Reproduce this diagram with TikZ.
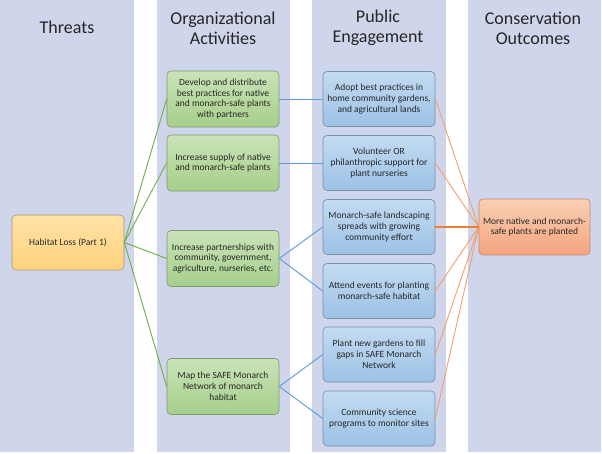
\documentclass[tikz,border=0pt]{standalone}
\usepackage{fontspec}
\setmainfont{Carlito}
\definecolor{colbg}{HTML}{CFD5EA}
\definecolor{gtop}{HTML}{C9E3B8}
\definecolor{gbot}{HTML}{A6CF8A}
\definecolor{gbrd}{HTML}{7E9A6C}
\definecolor{btop}{HTML}{C2DBF1}
\definecolor{bbot}{HTML}{9CC2E5}
\definecolor{bbrd}{HTML}{7890AC}
\definecolor{otop}{HTML}{FAD0B4}
\definecolor{obot}{HTML}{F4A47E}
\definecolor{obrd}{HTML}{C48A70}
\definecolor{ytop}{HTML}{FFE3A6}
\definecolor{ybot}{HTML}{FFD27C}
\definecolor{ybrd}{HTML}{A8977A}
\definecolor{glin}{HTML}{70AD47}
\definecolor{blin}{HTML}{5B9BD5}
\definecolor{olin}{HTML}{F4A06A}
\definecolor{olind}{HTML}{ED7D31}
\tikzset{
  column/.style={fill=colbg, draw=none},
  title/.style={font=\fontsize{18}{20}\selectfont, align=center, text=black!85},
  boxbase/.style={rounded corners=4pt, align=center, font=\fontsize{9.5}{10.8}\selectfont, text=black!85, inner sep=2pt, line width=0.6pt},
  gbox/.style={boxbase, top color=gtop, bottom color=gbot, draw=gbrd, minimum width=112pt, minimum height=56pt},
  bbox/.style={boxbase, top color=btop, bottom color=bbot, draw=bbrd, minimum width=112pt, minimum height=55pt},
  obox/.style={boxbase, top color=otop, bottom color=obot, draw=obrd, minimum width=111pt, minimum height=56pt},
  ybox/.style={boxbase, top color=ytop, bottom color=ybot, draw=ybrd, minimum width=112pt, minimum height=55pt},
  gline/.style={draw=glin, line width=0.9pt},
  bline/.style={draw=blin, line width=0.9pt},
  oline/.style={draw=olin, line width=0.9pt},
}
\begin{document}
\begin{tikzpicture}[x=1pt,y=-1pt]
\useasboundingbox (0,0) rectangle (602,454);
\fill[white] (0,0) rectangle (602,454);
% columns
\path[column] (0,0) rectangle (134,452);
\path[column] (157,0) rectangle (290,452);
\path[column] (312,0) rectangle (446,452);
\path[column] (468,0) rectangle (601,452);
% titles
\node[title] (t1) at (67,27) {Threats};
\node[title] (t2) at (223,28) {Organizational\\Activities};
\node[title] (t3) at (378,28) {Public\\Engagement};
\node[title] (t4) at (533,28) {Conservation\\Outcomes};
% threat
\node[ybox] (hab) at (68,242.5) {Habitat Loss (Part 1)};
% org activities
\node[gbox] (g1) at (223,99) {Develop and distribute\\best practices for native\\and monarch-safe plants\\with partners};
\node[gbox] (g2) at (223,163) {Increase supply of native\\and monarch-safe plants};
\node[gbox] (g3) at (223,258.5) {Increase partnerships with\\community, government,\\agriculture, nurseries, etc.};
\node[gbox] (g4) at (223,386.5) {Map the SAFE Monarch\\Network of monarch\\habitat};
% public engagement
\node[bbox] (b1) at (379,99) {Adopt best practices in\\home community gardens,\\and agricultural lands};
\node[bbox] (b2) at (379,163) {Volunteer OR\\philanthropic support for\\plant nurseries};
\node[bbox] (b3) at (379,227) {Monarch-safe landscaping\\spreads with growing\\community effort};
\node[bbox] (b4) at (379,291) {Attend events for planting\\monarch-safe habitat};
\node[bbox] (b5) at (379,354.5) {Plant new gardens to fill\\gaps in SAFE Monarch\\Network};
\node[bbox] (b6) at (379,418.5) {Community science\\programs to monitor sites};
% outcome
\node[obox] (out) at (534.5,227) {More native and monarch-\\safe plants are planted};
% connectors
\foreach \g in {g1,g2,g3,g4} \draw[gline] (hab.east) -- (\g.west);
\draw[bline] (g1.east) -- (b1.west);
\draw[bline] (g2.east) -- (b2.west);
\draw[bline] (g3.east) -- (b3.west);
\draw[bline] (g3.east) -- (b4.west);
\draw[bline] (g4.east) -- (b5.west);
\draw[bline] (g4.east) -- (b6.west);
\foreach \b in {b1,b2,b4,b5,b6} \draw[oline] (\b.east) -- (out.west);
\draw[draw=olind, line width=1.2pt] (b3.east) -- (out.west);
\end{tikzpicture}
\end{document}
